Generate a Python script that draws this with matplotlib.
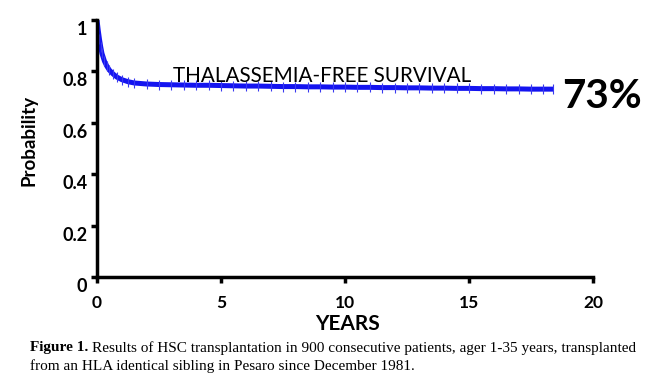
import matplotlib
matplotlib.use("Agg")
import matplotlib.pyplot as plt
from matplotlib.transforms import ScaledTranslation

years = [0, 0.05, 0.1, 0.15, 0.2, 0.3, 0.4, 0.5, 0.65, 0.8, 1.0, 1.25, 1.5, 2.0, 2.5, 3.0, 3.5, 4.0, 4.5, 5.0,
         5.5, 6.0, 6.5, 7.0, 7.5, 8.0, 8.5, 9.0, 9.5, 10.0, 10.5, 11.0, 11.5, 12.0, 12.5, 13.0, 13.5, 14.0,
         14.5, 15.0, 15.5, 16.0, 16.5, 17.0, 17.5, 18.0, 18.4]
survival = [1.0, 0.96, 0.925, 0.895, 0.87, 0.84, 0.82, 0.805, 0.79, 0.778, 0.768, 0.76, 0.755, 0.751,
            0.749, 0.748, 0.747, 0.746, 0.746, 0.745, 0.744, 0.743, 0.743, 0.742, 0.741, 0.741, 0.740,
            0.740, 0.739, 0.739, 0.738, 0.738, 0.737, 0.737, 0.736, 0.736, 0.735, 0.735, 0.734, 0.734,
            0.733, 0.733, 0.732, 0.732, 0.731, 0.731, 0.731]
xticks = [0, 5, 10, 15, 20]
yticks = [0, 0.2, 0.4, 0.6, 0.8, 1]
ytick_labels = ["0", "0.2", "0.4", "0.6", "0.8", "1"]

fig = plt.figure(figsize=(6.63, 3.91), dpi=100)
ax = fig.add_axes([0.1463, 0.2916, 0.7481, 0.6572])

ax.plot(years, survival, color="#1414f0", lw=3.6, solid_capstyle="butt",
        marker="|", markersize=7, markeredgewidth=0.8, markeredgecolor="#3a3af0")

ax.set_xlim(0, 20)
ax.set_ylim(0, 1)
ax.set_xticks(xticks)
ax.set_yticks(yticks)
ax.set_yticklabels(ytick_labels)
for s in ["top", "right"]:
    ax.spines[s].set_visible(False)
for s in ["left", "bottom"]:
    ax.spines[s].set_linewidth(2.5)
ax.tick_params(direction="out", length=4, width=2.5)
ax.tick_params(axis="x", labelsize=12.5, pad=9)
ax.tick_params(axis="y", labelsize=13, pad=3)
for lab in ax.get_xticklabels() + ax.get_yticklabels():
    lab.set_fontweight("bold")
    lab.set_family("Lato")
shift = ScaledTranslation(0, -0.08, fig.dpi_scale_trans)
for lab in ax.get_yticklabels():
    lab.set_transform(lab.get_transform() + shift)

fig.text(0.5235, 0.171, "YEARS", fontsize=15, fontweight="bold", family="Lato",
         ha="center", va="center")
fig.text(0.043, 0.640, "Probability", fontsize=13.5, fontweight="bold", family="Lato",
         ha="center", va="center", rotation=90)

ax.text(3.06, 0.757, "THALASSEMIA-FREE SURVIVAL", fontsize=14.9, family="Lato",
        ha="left", va="baseline")
fig.text(0.848, 0.752, "73%", fontsize=29, fontweight="bold", family="Lato",
         ha="left", va="center")

fig.canvas.draw()
renderer = fig.canvas.get_renderer()
t1 = fig.text(0.045, 0.110, "Figure 1.", fontsize=11, fontweight="bold",
              family="Liberation Serif", ha="left", va="center")
bb = t1.get_window_extent(renderer)
x_after = (bb.x1 + 4) / fig.bbox.width
fig.text(x_after, 0.110, "Results of HSC transplantation in 900 consecutive patients, ager 1-35 years, transplanted",
         fontsize=11, family="Liberation Serif", ha="left", va="center")
fig.text(0.045, 0.064, "from an HLA identical sibling in Pesaro since December 1981.",
         fontsize=11, family="Liberation Serif", ha="left", va="center")

fig.savefig("out.png", dpi=100)
